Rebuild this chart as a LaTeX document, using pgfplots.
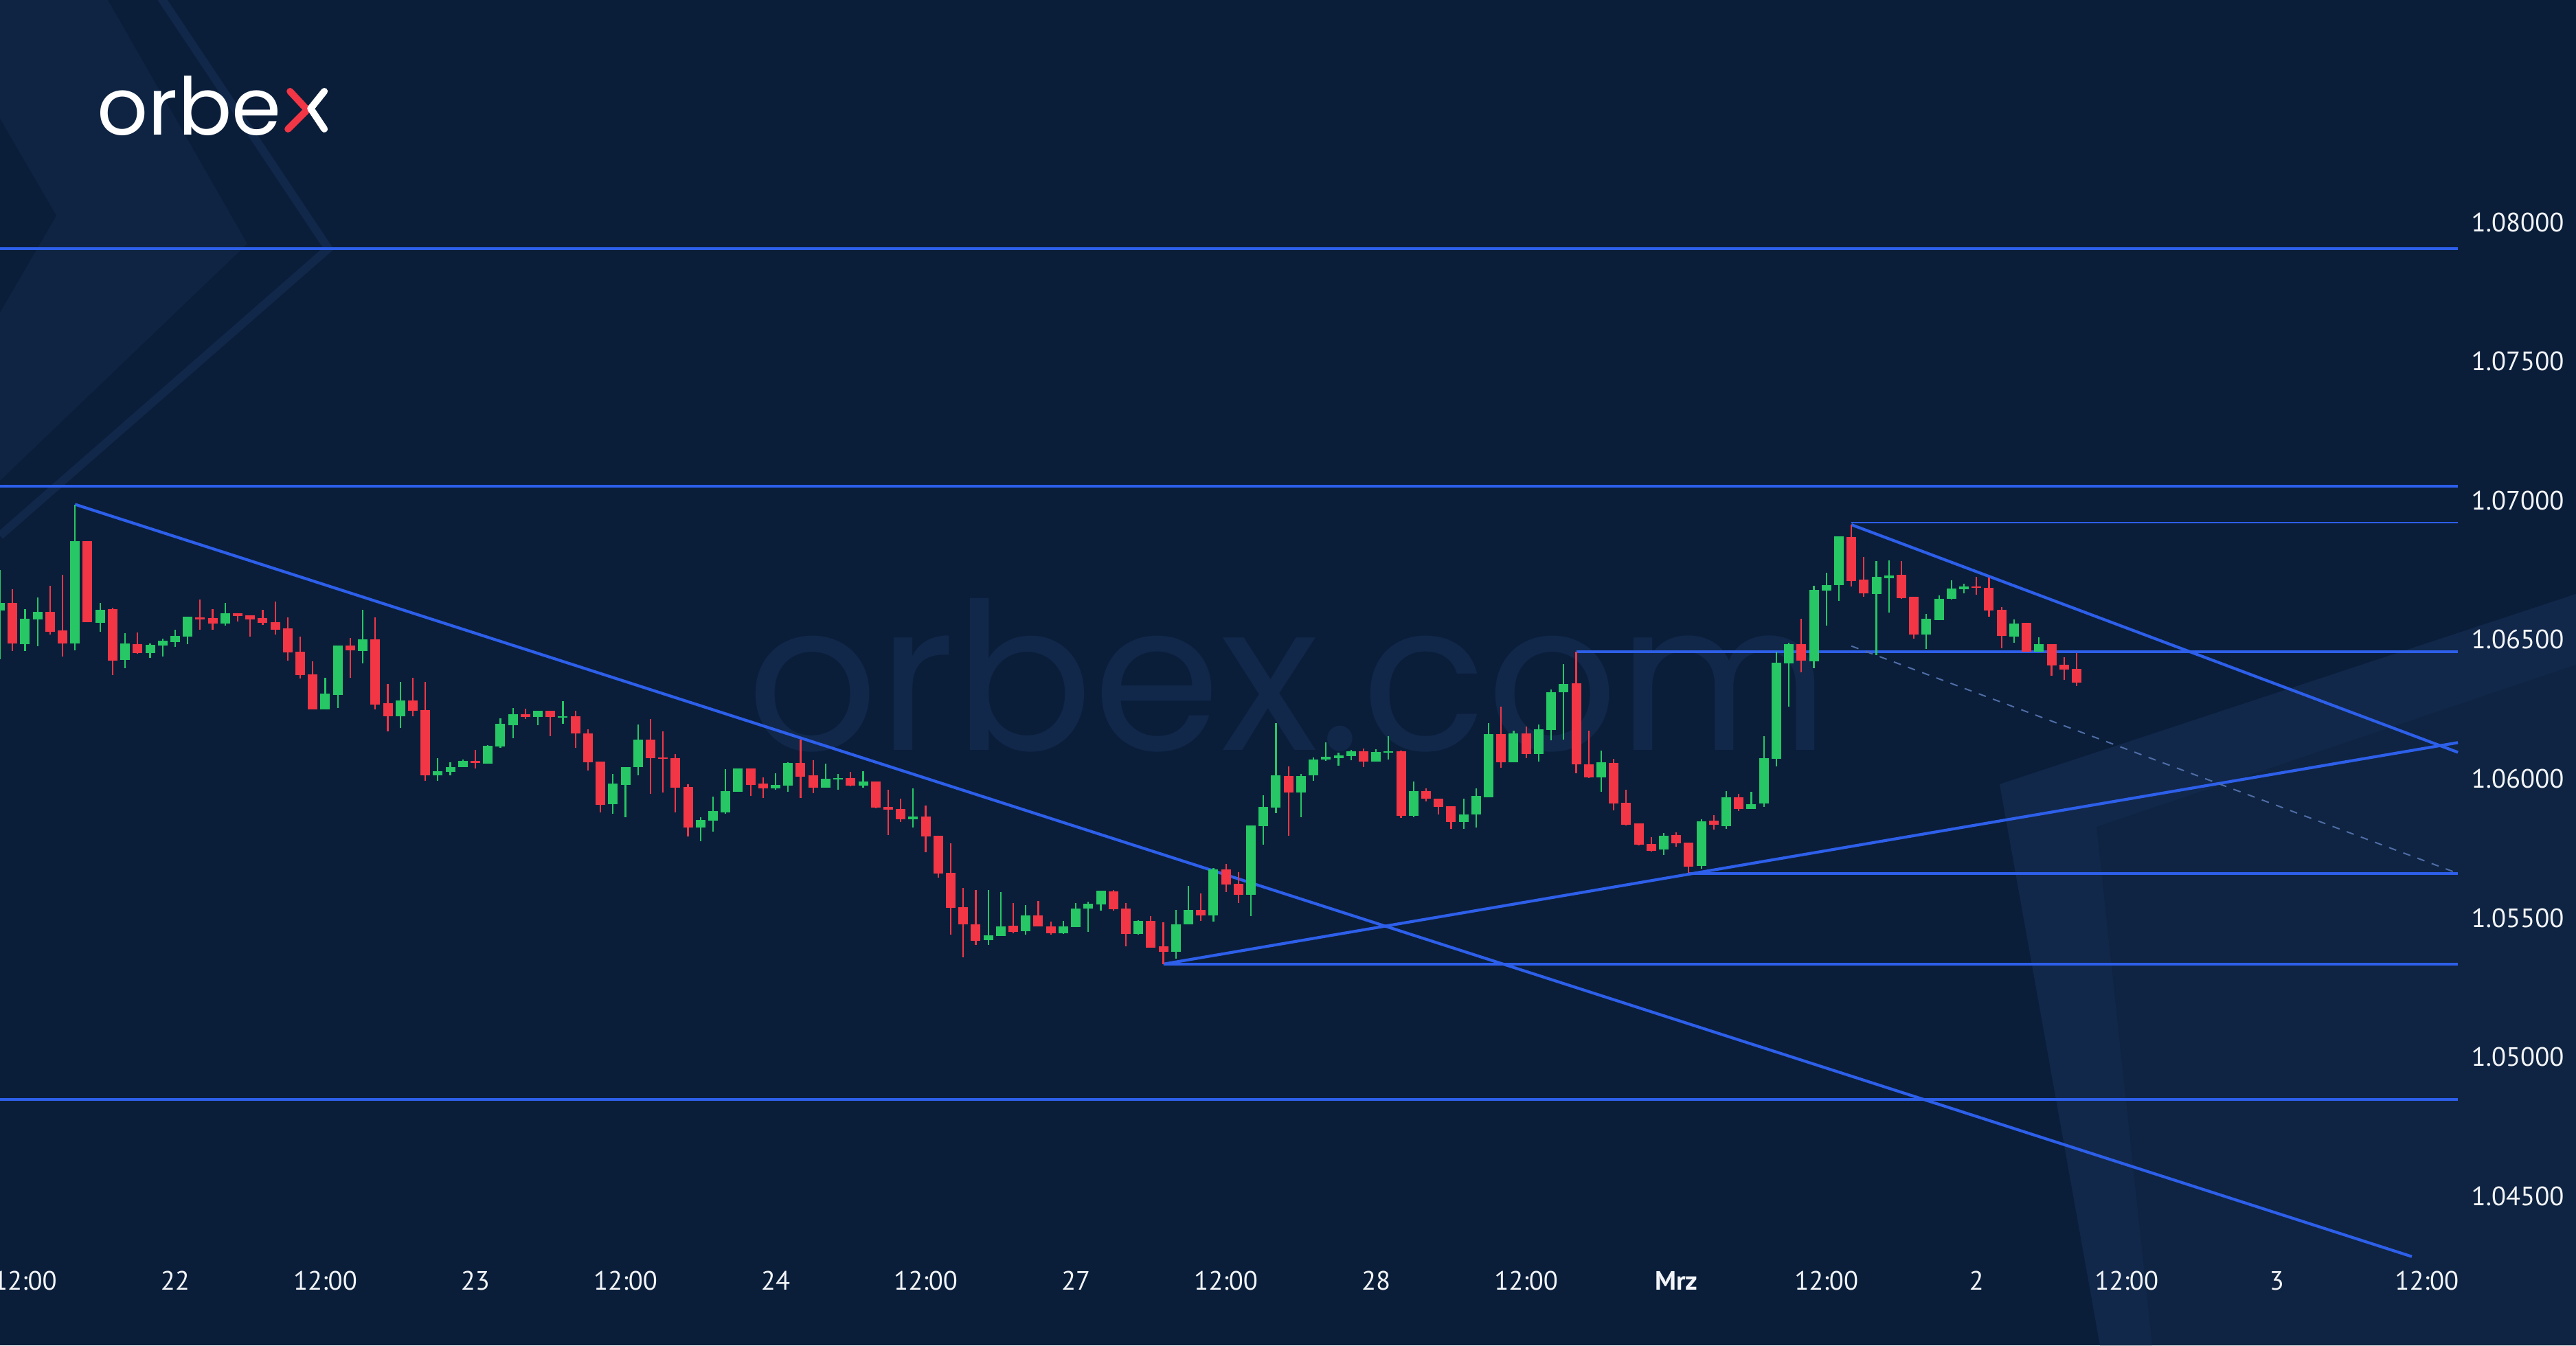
\documentclass[border=0pt]{standalone}
\usepackage{fontspec}
\setmainfont{PT Sans}
\newfontfamily\logofont{Poppins}
\usepackage{pgfplots}
\usepackage{pgfplotstable}
\pgfplotsset{compat=1.18}
\usetikzlibrary{calc}
\definecolor{bg}{HTML}{0A1E3A}
\definecolor{decoA}{HTML}{0E2442}
\definecolor{decoB}{HTML}{11284A}
\definecolor{wm}{HTML}{11284A}
\definecolor{lb}{HTML}{2D5FEA}
\definecolor{dl}{HTML}{4F6DA6}
\definecolor{cg}{HTML}{26C764}
\definecolor{cr}{HTML}{F23645}
\definecolor{tk}{HTML}{F2F4F7}
\newcommand\px[2]{({(#1)*0.1mm},{(1959-(#2))*0.1mm})}

\pgfplotstableread{
t O H L C
10 1.06605 1.06752 1.06431 1.06632
12 1.06486 1.06611 1.06461 1.06578
13 1.06574 1.06651 1.06476 1.06600
16 1.06486 1.06986 1.06461 1.06854
18 1.06562 1.06632 1.06529 1.06609
20 1.06426 1.06525 1.06398 1.06486
22 1.06453 1.06488 1.06435 1.06483
23 1.06479 1.06505 1.06440 1.06495
24 1.06491 1.06536 1.06476 1.06513
25 1.06510 1.06582 1.06485 1.06582
28 1.06558 1.06633 1.06551 1.06595
36 1.06250 1.06363 1.06250 1.06306
37 1.06303 1.06479 1.06254 1.06479
39 1.06461 1.06607 1.06416 1.06501
42 1.06226 1.06349 1.06184 1.06283
45 1.06012 1.06075 1.05994 1.06028
46 1.06025 1.06060 1.06014 1.06043
47 1.06041 1.06069 1.06041 1.06063
49 1.06056 1.06122 1.06056 1.06119
50 1.06116 1.06219 1.06113 1.06199
51 1.06195 1.06254 1.06146 1.06234
53 1.06223 1.06244 1.06193 1.06244
55 1.06222 1.06279 1.06199 1.06225
59 1.05908 1.06018 1.05875 1.05983
60 1.05979 1.06043 1.05862 1.06043
61 1.06043 1.06195 1.06012 1.06142
66 1.05825 1.05862 1.05776 1.05853
67 1.05851 1.05937 1.05811 1.05884
68 1.05881 1.06034 1.05875 1.05956
69 1.05955 1.06037 1.05955 1.06037
72 1.05966 1.06021 1.05963 1.05978
73 1.05977 1.06059 1.05953 1.06059
76 1.05969 1.06056 1.05969 1.06002
77 1.06000 1.06018 1.05961 1.06003
79 1.05977 1.06027 1.05967 1.05990
83 1.05855 1.05967 1.05827 1.05864
89 1.05420 1.05601 1.05404 1.05438
90 1.05435 1.05593 1.05435 1.05471
92 1.05451 1.05548 1.05441 1.05509
95 1.05446 1.05490 1.05442 1.05471
96 1.05469 1.05556 1.05469 1.05535
97 1.05534 1.05558 1.05451 1.05552
98 1.05549 1.05597 1.05527 1.05597
101 1.05442 1.05492 1.05441 1.05490
104 1.05379 1.05529 1.05354 1.05479
105 1.05478 1.05616 1.05478 1.05529
107 1.05511 1.05678 1.05486 1.05675
110 1.05583 1.05833 1.05508 1.05832
111 1.05830 1.05943 1.05763 1.05900
112 1.05897 1.06200 1.05877 1.06012
114 1.05953 1.06018 1.05864 1.06012
115 1.06012 1.06078 1.05994 1.06070
116 1.06068 1.06132 1.06064 1.06078
117 1.06074 1.06095 1.06048 1.06085
118 1.06082 1.06103 1.06066 1.06100
120 1.06064 1.06107 1.06064 1.06097
121 1.06095 1.06152 1.06068 1.06100
123 1.05867 1.05990 1.05862 1.05957
127 1.05844 1.05930 1.05821 1.05873
128 1.05871 1.05967 1.05826 1.05938
129 1.05936 1.06202 1.05936 1.06161
131 1.06060 1.06172 1.06060 1.06164
133 1.06091 1.06195 1.06062 1.06179
134 1.06177 1.06320 1.06138 1.06313
135 1.06312 1.06413 1.06142 1.06342
138 1.06006 1.06100 1.05952 1.06059
143 1.05746 1.05805 1.05725 1.05796
146 1.05686 1.05856 1.05677 1.05847
148 1.05831 1.05957 1.05822 1.05934
150 1.05893 1.05955 1.05893 1.05911
151 1.05911 1.06152 1.05900 1.06074
152 1.06072 1.06457 1.06045 1.06418
153 1.06416 1.06490 1.06259 1.06485
155 1.06424 1.06695 1.06399 1.06679
156 1.06677 1.06741 1.06551 1.06698
157 1.06695 1.06872 1.06640 1.06870
160 1.06665 1.06783 1.06444 1.06726
161 1.06722 1.06786 1.06597 1.06732
164 1.06518 1.06592 1.06467 1.06574
165 1.06572 1.06660 1.06572 1.06648
166 1.06646 1.06714 1.06646 1.06683
167 1.06681 1.06701 1.06666 1.06691
171 1.06513 1.06574 1.06490 1.06559
173 1.06457 1.06510 1.06457 1.06484
}\up

\pgfplotstableread{
t O H L C
11 1.06632 1.06682 1.06461 1.06486
14 1.06600 1.06695 1.06519 1.06529
15 1.06533 1.06735 1.06442 1.06486
17 1.06854 1.06854 1.06562 1.06562
19 1.06609 1.06614 1.06373 1.06426
21 1.06486 1.06525 1.06448 1.06453
26 1.06582 1.06645 1.06536 1.06574
27 1.06578 1.06610 1.06536 1.06558
29 1.06595 1.06595 1.06567 1.06585
30 1.06589 1.06589 1.06512 1.06574
31 1.06578 1.06607 1.06554 1.06561
32 1.06565 1.06638 1.06519 1.06536
33 1.06541 1.06580 1.06426 1.06454
34 1.06457 1.06510 1.06360 1.06373
35 1.06376 1.06422 1.06250 1.06250
38 1.06479 1.06507 1.06363 1.06461
40 1.06501 1.06580 1.06250 1.06268
41 1.06272 1.06342 1.06173 1.06226
43 1.06283 1.06363 1.06226 1.06246
44 1.06248 1.06349 1.05994 1.06012
48 1.06065 1.06104 1.06038 1.06058
52 1.06232 1.06254 1.06215 1.06222
54 1.06244 1.06244 1.06153 1.06223
56 1.06225 1.06245 1.06111 1.06163
57 1.06163 1.06178 1.06031 1.06060
58 1.06063 1.06063 1.05880 1.05908
62 1.06142 1.06215 1.05946 1.06075
63 1.06077 1.06172 1.05952 1.06072
64 1.06074 1.06089 1.05880 1.05970
65 1.05972 1.05981 1.05793 1.05825
70 1.06037 1.06037 1.05940 1.05979
71 1.05983 1.06005 1.05931 1.05966
74 1.06059 1.06142 1.05933 1.06010
75 1.06014 1.06068 1.05949 1.05969
78 1.06002 1.06025 1.05974 1.05977
80 1.05990 1.05990 1.05895 1.05897
81 1.05900 1.05961 1.05800 1.05889
82 1.05892 1.05930 1.05846 1.05855
84 1.05866 1.05903 1.05737 1.05794
85 1.05797 1.05797 1.05646 1.05661
86 1.05664 1.05767 1.05439 1.05538
87 1.05539 1.05609 1.05360 1.05478
88 1.05479 1.05601 1.05404 1.05418
91 1.05471 1.05554 1.05445 1.05449
93 1.05509 1.05562 1.05469 1.05469
94 1.05469 1.05488 1.05441 1.05446
99 1.05597 1.05601 1.05527 1.05531
100 1.05533 1.05554 1.05400 1.05442
102 1.05490 1.05508 1.05394 1.05394
103 1.05397 1.05484 1.05334 1.05379
106 1.05529 1.05590 1.05490 1.05511
108 1.05675 1.05696 1.05595 1.05622
109 1.05623 1.05667 1.05556 1.05583
113 1.06012 1.06044 1.05794 1.05953
119 1.06100 1.06109 1.06043 1.06064
122 1.06100 1.06103 1.05862 1.05867
124 1.05957 1.05966 1.05918 1.05929
125 1.05929 1.05929 1.05873 1.05901
126 1.05903 1.05903 1.05821 1.05844
130 1.06162 1.06260 1.06040 1.06060
132 1.06164 1.06188 1.06076 1.06091
136 1.06342 1.06457 1.06019 1.06052
137 1.06054 1.06173 1.06003 1.06006
139 1.06059 1.06071 1.05886 1.05912
140 1.05915 1.05961 1.05831 1.05836
141 1.05840 1.05840 1.05761 1.05765
142 1.05768 1.05792 1.05740 1.05743
144 1.05798 1.05809 1.05756 1.05768
145 1.05772 1.05772 1.05664 1.05686
147 1.05849 1.05869 1.05818 1.05834
149 1.05934 1.05946 1.05884 1.05893
154 1.06485 1.06576 1.06383 1.06424
158 1.06870 1.06913 1.06691 1.06712
159 1.06714 1.06798 1.06654 1.06665
162 1.06732 1.06783 1.06648 1.06650
163 1.06654 1.06654 1.06504 1.06518
168 1.06691 1.06726 1.06662 1.06685
169 1.06687 1.06724 1.06584 1.06605
170 1.06607 1.06619 1.06469 1.06513
172 1.06559 1.06559 1.06457 1.06457
174 1.06484 1.06484 1.06370 1.06407
175 1.06411 1.06438 1.06355 1.06393
176 1.06395 1.06451 1.06333 1.06347
}\down

\pgfplotsset{candle/.style={only marks, mark=*, mark size=0pt,
  mark options={draw=none, fill=none, draw opacity=0, fill opacity=0}}}

\begin{document}
\begin{tikzpicture}
% background
\fill[bg] (0,0) rectangle (375mm,195.9mm);
% left chevron decoration
\fill[decoA] \px{0}{0} -- \px{157}{0} -- \px{360}{355} -- \px{0}{700} -- cycle;
\fill[bg] \px{0}{173} -- \px{82}{314} -- \px{0}{455} -- cycle;
\draw[decoB, line width=1.2mm] \px{230}{-10} -- \px{478}{362} -- \px{0}{780};
% right chevron decoration
\fill[decoA] \px{2911}{1142} -- \px{3750}{865} -- \px{3750}{1959} -- \px{3057}{1959} -- cycle;
\fill[decoB] \px{2911}{1142} -- \px{3750}{865} -- \px{3750}{968} -- \px{3052}{1204} -- \px{3133}{1959} -- \px{3057}{1959} -- cycle;
% watermark
\node[anchor=base, inner sep=0, text=wm, font=\logofont\fontsize{85}{90}\selectfont] at \px{1875}{1093} {orbex.com};
% logo
\node[anchor=base west, inner sep=0, text=white, font=\logofont\fontsize{33}{38}\selectfont] (logo) at \px{141}{197} {orbe};
\draw[cr, line width=1.0mm, line cap=round, line join=round]
  ($(logo.base east)+(1.2mm,6.4mm)$) -- ($(logo.base east)+(3.7mm,3.7mm)$) -- ($(logo.base east)+(0.9mm,0.9mm)$);
\draw[white, line width=1.0mm, line cap=round, line join=round]
  ($(logo.base east)+(6.2mm,6.4mm)$) -- ($(logo.base east)+(4.2mm,3.9mm)$) -- ($(logo.base east)+(6.2mm,0.9mm)$);

\begin{axis}[
  at={(0,0)}, anchor=south west,
  scale only axis, width=375mm, height=195.9mm,
  xmin=10, xmax=215.93, ymin=1.039640, ymax=1.087986,
  axis line style={draw=none}, major tick length=0pt,
  xtick={12,24,36,48,60,72,84,96,108,120,132,144,156,168,180,192,204},
  xticklabels={12:00,22,12:00,23,12:00,24,12:00,27,12:00,28,12:00,\textbf{Mrz},12:00,2,12:00,3,12:00},
  ytick={1.045,1.05,1.055,1.06,1.065,1.07,1.075,1.08},
  yticklabels={1.04500,1.05000,1.05500,1.06000,1.06500,1.07000,1.07500,1.08000},
  yticklabel pos=right,
  xticklabel style={anchor=center, yshift=9.4mm, text=tk, font=\fontsize{11}{13}\selectfont},
  yticklabel style={anchor=center, xshift=-8.5mm, text=tk, font=\fontsize{11}{13}\selectfont},
]
% levels and trend lines
\addplot[lb, line width=0.42mm] coordinates {(10,1.07905) (206.49,1.07905)};
\addplot[lb, line width=0.42mm] coordinates {(10,1.07052) (206.49,1.07052)};
\addplot[lb, line width=0.24mm] coordinates {(158,1.06920) (206.49,1.06920)};
\addplot[lb, line width=0.42mm] coordinates {(136,1.06457) (206.49,1.06457)};
\addplot[lb, line width=0.42mm] coordinates {(145,1.05660) (206.49,1.05660)};
\addplot[lb, line width=0.42mm] coordinates {(103,1.05333) (206.49,1.05333)};
\addplot[lb, line width=0.42mm] coordinates {(10,1.04848) (206.49,1.04848)};
\addplot[lb, line width=0.42mm] coordinates {(16,1.06986) (202.8,1.04283)};
\addplot[lb, line width=0.42mm] coordinates {(158,1.06913) (206.49,1.06095)};
\addplot[lb, line width=0.42mm] coordinates {(103,1.05334) (206.49,1.06130)};
\addplot[dl, line width=0.2mm, dash pattern=on 1.1mm off 1.1mm] coordinates {(158,1.06477) (206.49,1.05660)};
% wicks
\addplot[candle, error bars/.cd, y dir=both, y explicit, error mark=none,
  error bar style={line width=0.22mm, cg}]
  table[x=t, y expr={(\thisrow{H}+\thisrow{L})/2}, y error expr={(\thisrow{H}-\thisrow{L})/2}] {\up};
\addplot[candle, error bars/.cd, y dir=both, y explicit, error mark=none,
  error bar style={line width=0.22mm, cr}]
  table[x=t, y expr={(\thisrow{H}+\thisrow{L})/2}, y error expr={(\thisrow{H}-\thisrow{L})/2}] {\down};
% bodies
\addplot[candle, error bars/.cd, y dir=both, y explicit, error mark=none,
  error bar style={line width=1.4mm, cg}]
  table[x=t, y expr={(\thisrow{O}+\thisrow{C})/2}, y error expr={max(abs(\thisrow{C}-\thisrow{O})/2,0.00002)}] {\up};
\addplot[candle, error bars/.cd, y dir=both, y explicit, error mark=none,
  error bar style={line width=1.4mm, cr}]
  table[x=t, y expr={(\thisrow{O}+\thisrow{C})/2}, y error expr={max(abs(\thisrow{C}-\thisrow{O})/2,0.00002)}] {\down};
\end{axis}
\pgfresetboundingbox
\path[use as bounding box] (0,0) rectangle (375mm,195.9mm);
\end{tikzpicture}
\end{document}
